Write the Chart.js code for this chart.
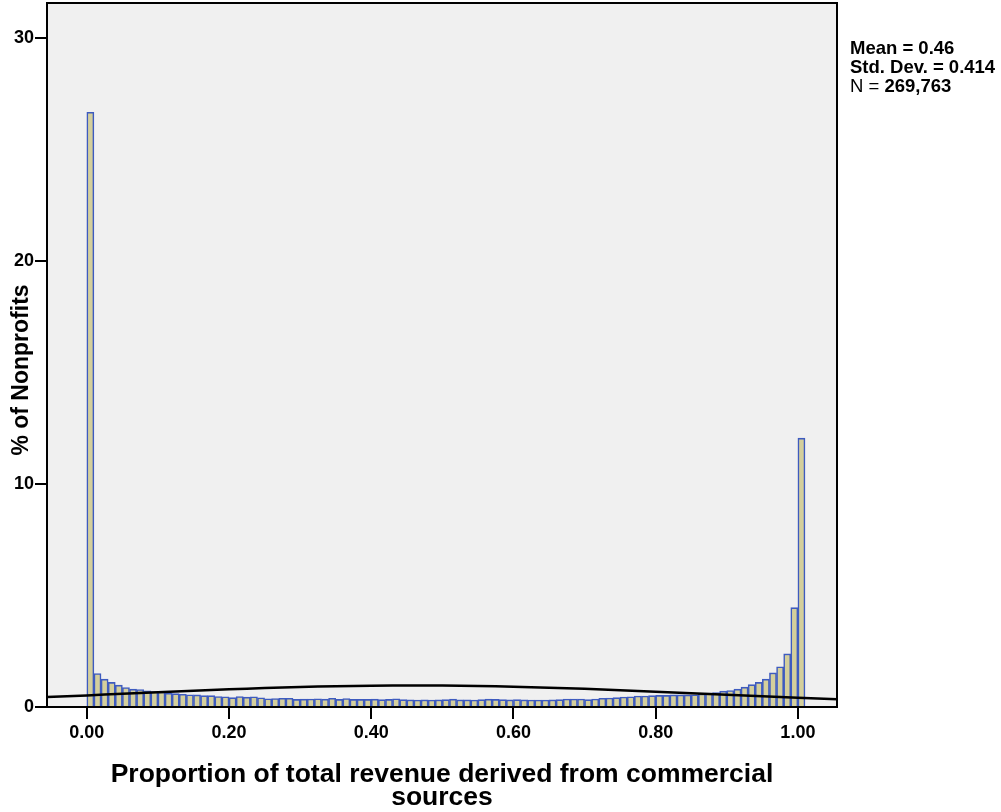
<!DOCTYPE html>
<html>
<head>
<meta charset="utf-8">
<script src="https://cdn.jsdelivr.net/npm/chart.js@4.4.1/dist/chart.umd.min.js"></script>
<style>
  html, body { margin: 0; padding: 0; background: #fff; }
  #wrap { width: 1001px; height: 812px; }
</style>
</head>
<body>
<div id="wrap"><canvas id="chart1" width="1001" height="812"></canvas></div>
<script>
// histogram, bins of width 0.01 starting at 0.00 (last bin starts at 1.00)
const BIN_WIDTH = 0.01;
const PERCENT = [
  26.65, 1.50, 1.25, 1.10, 0.98, 0.87, 0.80, 0.78, 0.72, 0.69,
  0.67, 0.62, 0.60, 0.57, 0.55, 0.54, 0.51, 0.51, 0.47, 0.46,
  0.42, 0.47, 0.44, 0.46, 0.41, 0.37, 0.38, 0.39, 0.39, 0.34,
  0.35, 0.36, 0.37, 0.35, 0.39, 0.34, 0.38, 0.34, 0.34, 0.34,
  0.35, 0.33, 0.34, 0.37, 0.33, 0.32, 0.31, 0.32, 0.31, 0.32,
  0.33, 0.35, 0.32, 0.32, 0.31, 0.33, 0.35, 0.34, 0.33, 0.32,
  0.33, 0.32, 0.31, 0.31, 0.31, 0.32, 0.33, 0.36, 0.36, 0.36,
  0.33, 0.36, 0.39, 0.40, 0.42, 0.45, 0.46, 0.49, 0.49, 0.51,
  0.52, 0.52, 0.54, 0.54, 0.54, 0.55, 0.58, 0.62, 0.65, 0.71,
  0.74, 0.80, 0.89, 1.00, 1.10, 1.25, 1.53, 1.80, 2.38, 4.45,
  12.05
];

// normal curve overlay
const CURVE_X = [-0.056, 0, 0.05, 0.1, 0.15, 0.2, 0.25, 0.3, 0.35, 0.4, 0.46, 0.5, 0.55, 0.6, 0.65, 0.7, 0.75, 0.8, 0.85, 0.9, 0.95, 1.0, 1.055];
const CURVE_Y = [0.443, 0.520, 0.590, 0.660, 0.728, 0.791, 0.847, 0.894, 0.930, 0.954, 0.964, 0.959, 0.941, 0.910, 0.867, 0.814, 0.754, 0.688, 0.618, 0.548, 0.478, 0.412, 0.343];

const X_TICKS = [0, 0.2, 0.4, 0.6, 0.8, 1.0];
const Y_TICKS = [0, 10, 20, 30];
const Y_TITLE = '% of Nonprofits';
const STATS = [
  { label: 'Mean = ', value: '0.46', boldLabel: true },
  { label: 'Std. Dev. = ', value: '0.414', boldLabel: true },
  { label: 'N = ', value: '269,763', boldLabel: false },
];

const FONT = "'Liberation Sans', Arial, Helvetica, sans-serif";

const barData = PERCENT.map((v, i) => ({ x: i * BIN_WIDTH + BIN_WIDTH / 2, y: v }));
const curveData = CURVE_X.map((x, i) => ({ x: x, y: CURVE_Y[i] }));

const framePlugin = {
  id: 'frame',
  beforeDatasetsDraw(chart) {
    const { ctx, chartArea: a } = chart;
    ctx.save();
    ctx.fillStyle = '#f0f0f0';
    ctx.fillRect(a.left, a.top, a.right - a.left, a.bottom - a.top);
    ctx.restore();
  },
  afterDraw(chart) {
    const { ctx, chartArea: a } = chart;
    ctx.save();
    ctx.strokeStyle = '#000';
    ctx.lineWidth = 2;
    ctx.strokeRect(a.left, a.top, a.right - a.left, a.bottom - a.top);

    // y axis title, a bit below the middle like the original
    ctx.fillStyle = '#000';
    ctx.font = 'bold 23px ' + FONT;
    ctx.textAlign = 'center';
    ctx.textBaseline = 'middle';
    ctx.translate(22, 370);
    ctx.rotate(-Math.PI / 2);
    ctx.fillText(Y_TITLE, 0, 0);
    ctx.setTransform(1, 0, 0, 1, 0, 0);

    // stats box on the right
    ctx.textAlign = 'left';
    ctx.textBaseline = 'alphabetic';
    let y = 54;
    STATS.forEach(s => {
      let x = 850;
      ctx.font = (s.boldLabel ? 'bold ' : '') + '18.5px ' + FONT;
      ctx.fillText(s.label, x, y);
      x += ctx.measureText(s.label).width;
      ctx.font = 'bold 18.5px ' + FONT;
      ctx.fillText(s.value, x, y);
      y += 19;
    });
    ctx.restore();
  }
};

new Chart(document.getElementById('chart1'), {
  data: {
    datasets: [
      {
        type: 'line',
        data: curveData,
        borderColor: '#000',
        borderWidth: 2.5,
        pointRadius: 0,
        tension: 0.4,
        fill: false,
        order: 0,
      },
      {
        type: 'bar',
        data: barData,
        backgroundColor: '#d4cf9c',
        borderColor: '#3e5bbf',
        borderWidth: 1.6,
        barPercentage: 1,
        categoryPercentage: 1,
        order: 1,
      },
    ],
  },
  options: {
    responsive: false,
    animation: false,
    devicePixelRatio: 1,
    layout: { padding: { left: 0, right: 164, top: 3, bottom: 0 } },
    plugins: {
      legend: { display: false },
      tooltip: { enabled: false },
    },
    scales: {
      x: {
        type: 'linear',
        min: -0.056,
        max: 1.055,
        offset: false,
        afterBuildTicks: s => { s.ticks = X_TICKS.map(v => ({ value: v })); },
        afterFit: s => { s.height = 105; s.paddingLeft = 0; s.paddingRight = 0; },
        grid: { offset: false, drawOnChartArea: false, tickLength: 12, color: '#000', lineWidth: 2 },
        border: { display: false },
        ticks: {
          color: '#000',
          padding: 3,
          maxRotation: 0,
          font: { family: FONT, size: 18, weight: 'bold' },
          callback: v => Number(v).toFixed(2),
        },
        title: {
          display: true,
          text: ['Proportion of total revenue derived from commercial', 'sources'],
          color: '#000',
          font: { family: FONT, size: 26.5, weight: 'bold', lineHeight: 0.9 },
          padding: { top: 0, bottom: 2 },
        },
      },
      y: {
        min: 0,
        max: 31.55,
        offset: false,
        afterBuildTicks: s => { s.ticks = Y_TICKS.map(v => ({ value: v })); },
        afterFit: s => { s.width = 47; s.paddingTop = 0; s.paddingBottom = 0; },
        grid: { drawOnChartArea: false, tickLength: 12, color: '#000', lineWidth: 2 },
        border: { display: false },
        ticks: {
          color: '#000',
          padding: 1,
          font: { family: FONT, size: 18, weight: 'bold' },
        },
      },
    },
  },
  plugins: [framePlugin],
});
</script>
</body>
</html>
